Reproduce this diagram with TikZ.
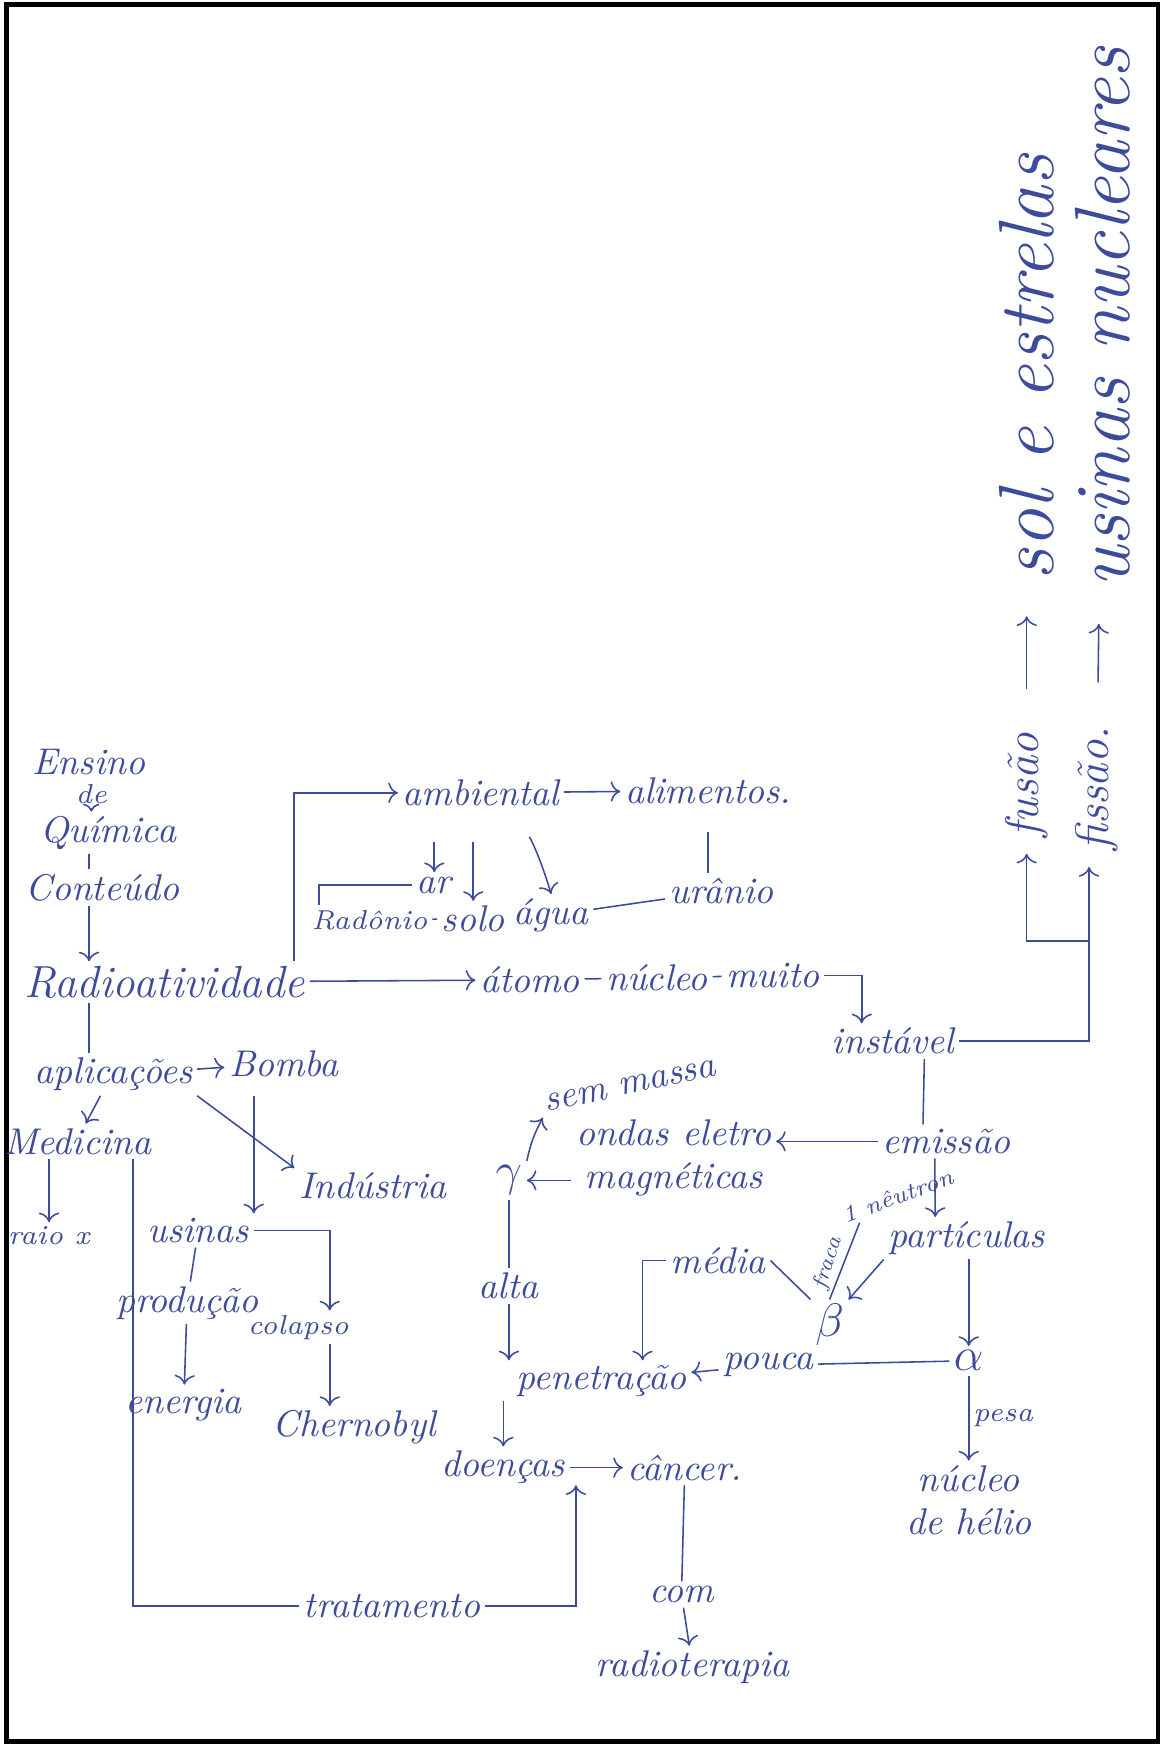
\documentclass[tikz,border=0pt]{standalone}
\usepackage{tikz}
\usetikzlibrary{positioning, arrows.meta}
\definecolor{inkblue}{HTML}{3D4C9A}

\begin{document}
\begin{tikzpicture}[x=0.1mm, y=-0.1mm,
        word/.style={text=inkblue, font=\itshape\fontsize{9.5}{11}\selectfont, inner sep=1pt},
        small/.style={word, font=\itshape\fontsize{7}{8}\selectfont},
        vert/.style={word, rotate=90, font=\itshape\fontsize{20}{23}\selectfont},
        link/.style={inkblue, thin},
        arr/.style={->, inkblue, thin}]
      \useasboundingbox (0,0) rectangle (1044,1568);
      \draw[black, line width=1.2pt] (6,4) rectangle (1040,1564);

      % Start
      \node[word] (ensino) at (80,684) {Ensino};
      \node[small] (de) at (82,713) {de};
      \node[word] (quimica) at (97,748) {Química};
      \node[word] (conteudo) at (92,797) {Conteúdo};
      \node[word, font=\itshape\fontsize{11.5}{13}\selectfont] (radio) at (148,882) {Radioatividade};

      \draw[-{To[length=2pt]}, inkblue] (de.south) -- (de.south |- quimica.north);
      \draw[link] (quimica.south -| ensino) -- (conteudo.north -| ensino);
      \draw[arr] (conteudo.south -| ensino) -- (radio.north -| ensino);

      % Ambiental
      \node[word] (ambiental) at (432,712) {ambiental};
      \node[word] (alimentos) at (636,710) {alimentos.};
      \node[word] (ar) at (390,795) {ar};
      \node[word] (solo) at (425,825) {solo};
      \node[word] (agua) at (495,822) {água};
      \node[word] (uranio) at (648,800) {urânio};
      \node[small] (radonio) at (332,826) {Radônio};

      \draw[arr] ([xshift=-4pt]radio.north east) |- (ambiental.west);
      \draw[arr] (ambiental) -- (alimentos);
      \draw[arr, shorten <=8pt] (ambiental.south -| ar) -- (ar);
      \draw[arr, shorten <=8pt] (ambiental.south -| solo) -- (solo);
      \draw[arr, shorten <=8pt] ([xshift=8pt]ambiental.south) to[bend left=8] (agua.north);
      \draw[link] ([xshift=3pt]radonio.north west) |- (ar.west);
      \draw[link] (radonio) -- (solo);
      \draw[link, shorten <=6pt] (alimentos.south) -- (alimentos.south |- uranio.north);
      \draw[link] (agua) -- (uranio);

      % Atomo
      \node[word] (atomo) at (476,880) {átomo};
      \node[word] (nucleo) at (590,878) {núcleo};
      \node[word] (muito) at (694,876) {muito};
      \node[word] (instavel) at (802,935) {instável};

      \draw[arr] (radio) -- (atomo);
      \draw[link] (atomo) -- (nucleo);
      \draw[link] (nucleo) -- (muito);
      \draw[arr] (muito.east) -| ([xshift=-8pt]instavel.north);

      % Fusao e fissao
      \node[vert] (sol) at (922,330) {sol e estrelas};
      \node[vert] (usinasnuc) at (990,285) {usinas nucleares};
      \node[word, rotate=90, font=\itshape\fontsize{12}{14}\selectfont] (fusao) at (922,705) {fusão};
      \node[word, rotate=90, font=\itshape\fontsize{12}{14}\selectfont] (fissao) at (985,708) {fissão.};
      \coordinate (split) at (978,845);

      \draw[arr, shorten <=10pt, shorten >=8pt] (fusao) -- (sol);
      \draw[arr, shorten <=10pt, shorten >=8pt] (fissao) -- (usinasnuc);
      \draw[arr] (instavel.east) -| ([yshift=-3pt]fissao.west -| split);
      \draw[arr] (split) -| ([yshift=-3pt]fusao.west);

      % Emissao
      \node[word] (emissao) at (850,1025) {emissão};
      \node[word, align=center] (ondas) at (605,1040) {ondas eletro\\magnéticas};
      \node[word, font=\fontsize{13}{15}\selectfont] (gama) at (457,1060) {$\gamma$};
      \node[word, rotate=12] (semmassa) at (566,975) {sem massa};
      \node[word] (alta) at (457,1155) {alta};
      \node[word] (penetracao) at (540,1240) {penetração};

      \draw[link] ([xshift=8pt]instavel.south) -- ([xshift=-6pt]emissao.north);
      \draw[arr] (emissao.west) -- (ondas.east |- emissao.west);
      \draw[arr] (ondas.west |- gama) -- (gama);
      \draw[arr] (gama.north east) to[bend left=8] (semmassa.south west);
      \draw[link] (gama) -- (alta);
      \draw[arr] (alta) -- (alta |- penetracao.north);

      % Particulas
      \node[word] (particulas) at (868,1112) {partículas};
      \node[word, font=\fontsize{13}{15}\selectfont] (beta) at (745,1190) {$\beta$};
      \node[small, font=\itshape\fontsize{6}{7}\selectfont, rotate=20] (neutron) at (806,1074) {1 nêutron};
      \coordinate (fracatop) at (772,1098);
      \node[word] (media) at (645,1132) {média};
      \node[word, font=\fontsize{13}{15}\selectfont] (alfa) at (870,1222) {$\alpha$};
      \node[word] (pouca) at (690,1226) {pouca};
      \node[word, align=center] (helio) at (870,1347) {núcleo\\de hélio};

      \draw[arr] ([xshift=-3pt]emissao.south) -- ([xshift=-8pt]particulas.north);
      \draw[arr] (particulas.south west) -- (beta.north east);
      \draw[link] (beta.north) -- node[small, font=\itshape\fontsize{5.5}{6}\selectfont, rotate=72, pos=0.42, anchor=south] {fraca} (fracatop);
      \draw[link] (media.east) -- (beta.north west);
      \draw[arr] (media.west) -- ++(-6pt,0) -- ([xshift=-6pt]media.west |- penetracao.north);
      \draw[arr] (particulas.south -| alfa) -- (alfa);
      \draw[link] (alfa) -- (pouca);
      \draw[arr] (pouca) -- (penetracao);
      \draw[arr] (alfa) -- node[small, right] {pesa} (helio);

      % Doencas
      \node[word] (doencas) at (452,1318) {doenças};
      \node[word] (cancer) at (615,1318) {câncer.};
      \node[word] (com) at (612,1432) {com};
      \node[word] (radioterapia) at (622,1497) {radioterapia};

      \draw[arr] (penetracao.south -| doencas) -- (doencas);
      \draw[arr] (doencas) -- (cancer);
      \draw[link] (cancer) -- (com);
      \draw[arr] (com) -- (radioterapia);

      % Aplicacoes
      \node[word] (aplicacoes) at (102,965) {aplicações};
      \node[word] (bomba) at (255,955) {Bomba};
      \node[word] (industria) at (335,1065) {Indústria};
      \node[word] (medicina) at (70,1025) {Medicina};
      \node[small] (raiox) at (44,1110) {raio x};
      \node[word] (usinas) at (178,1105) {usinas};
      \node[word] (producao) at (168,1170) {produção};
      \node[small] (colapso) at (268,1192) {colapso};
      \node[word] (energia) at (165,1262) {energia};
      \node[word] (chernobyl) at (318,1282) {Chernobyl};
      \node[word] (tratamento) at (352,1442) {tratamento};

      \draw[link] (radio.south -| ensino) -- (aplicacoes.north -| ensino);
      \draw[arr] (aplicacoes) -- (bomba);
      \draw[arr] (aplicacoes.south east) -- (industria.north west);
      \draw[arr] ([xshift=18pt]aplicacoes.south west) -- ([xshift=2pt]medicina.north);
      \draw[arr] (medicina.south -| raiox) -- (raiox);
      \draw[arr] (aplicacoes.south -| usinas.north east) -- (usinas.north east);
      \draw[link] (usinas) -- (producao);
      \draw[arr] (usinas.east) -| ([xshift=8pt]colapso.north);
      \draw[arr] (producao) -- (energia);
      \draw[arr] ([xshift=8pt]colapso.south) -- ([xshift=8pt]colapso.south |- chernobyl.north);
      \draw[link] ([xshift=-6pt]medicina.south east) |- (tratamento.west);
      \draw[arr] (tratamento.east) -| ([xshift=-12pt]cancer.south west);
    \end{tikzpicture}
\end{document}
